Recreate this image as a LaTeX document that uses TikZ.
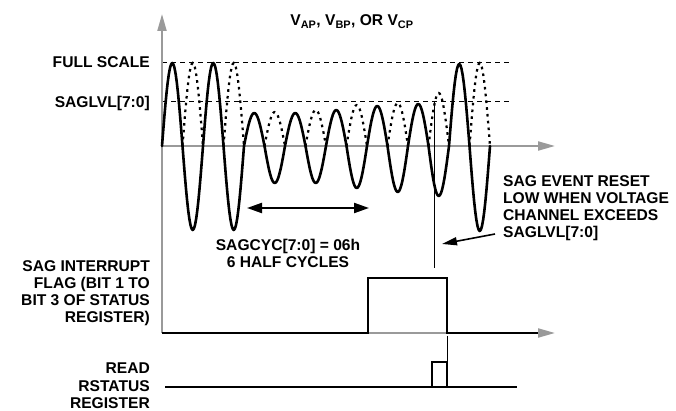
\documentclass[tikz,border=0pt]{standalone}
\usepackage{fontspec}
\setmainfont{Liberation Sans}
\usetikzlibrary{arrows.meta}
\definecolor{axisgray}{HTML}{9A9A9A}
\begin{document}
\begin{tikzpicture}[x=1pt,y=-1pt,
  lbl/.style={font=\fontsize{15.6}{17.3}\selectfont\bfseries, inner sep=0pt},
  axisline/.style={draw=axisgray, line width=2pt, -{Triangle[length=17pt,width=9pt]}},
  levelline/.style={draw=black, line width=1pt, dash pattern=on 5pt off 4pt},
  wave/.style={draw=black, line width=2.6pt, line join=round, line cap=round},
  dots/.style={draw=black, line width=2.2pt, dash pattern=on 2.6pt off 4.2pt},
  sig/.style={draw=black, line width=2.6pt, line join=miter},
  thin/.style={draw=black, line width=1pt},
  dblarrow/.style={draw=black, line width=2.2pt, {Triangle[length=15pt,width=10pt]}-{Triangle[length=15pt,width=10pt]}},
  ptr/.style={draw=black, line width=1.6pt, -{Triangle[length=15pt,width=8pt]}}]
\useasboundingbox (0,0) rectangle (676,411);

% coordinates
\coordinate (origin) at (162,146);
\coordinate (ytop) at (162,14);
\coordinate (ybot) at (162,333);
\coordinate (xend) at (555,146);
\coordinate (fend) at (555,333);
\coordinate (fsL) at (162,63);
\coordinate (fsR) at (510,63);
\coordinate (slL) at (162,102);
\coordinate (slR) at (510,102);

% level lines
\draw[levelline] (fsL) -- (fsR);
\draw[levelline] (slL) -- (slR);

% axes
\draw[axisline] (ybot) -- (ytop);
\draw[axisline] (origin) -- (xend);
\draw[axisline] (ybot) -- (fend);

% dotted rectified negative halves
\foreach \s/\A in {182.5/83, 223.5/83, 264.5/34, 305.5/36, 346.5/41, 387.5/43, 428.5/53, 469.5/83}
  \draw[dots] plot[domain=0:180,samples=21] ({\s+\x/180*20.5},{146-\A*sin(\x)});

% solid waveform
\draw[wave] (origin) foreach \A [count=\k] in {83,-84,83,-84,33,-37,33,-37,36,-42,40,-46,42,-50,82,-85}
  { -- plot[domain=0:180,samples=19] ({162+(\k-1)*20.5+\x/180*20.5},{146-\A*sin(\x)}) };

% labels
\node[lbl, anchor=base east] (fslbl) at (150,68) {FULL SCALE};
\node[lbl, anchor=base east] (sllbl) at (150,108) {SAGLVL[7:0]};
\node[lbl, anchor=base] (title) at (352,26) {V\textsubscript{AP}, V\textsubscript{BP}, OR V\textsubscript{CP}};
\node[lbl, anchor=north east, align=right] (flaglbl) at (150,260) {SAG INTERRUPT\\FLAG (BIT 1 TO\\BIT 3 OF STATUS\\REGISTER)};
\node[lbl, anchor=north east, align=right] (readlbl) at (150,363) {READ\\RSTATUS\\REGISTER};
\node[lbl, anchor=north west, align=left] (evlbl) at (503,175) {SAG EVENT RESET\\LOW WHEN VOLTAGE\\CHANNEL EXCEEDS\\SAGLVL[7:0]};
\node[lbl, anchor=north, align=center] (cyclbl) at (288,239) {SAGCYC[7:0] = 06h\\6 HALF CYCLES};

% half-cycle span arrow
\coordinate (spanL) at (247,208);
\coordinate (spanR) at (369,208);
\draw[dblarrow] (spanL) -- (spanR);

% reset marker line and pointer
\coordinate (vtop) at (434,102);
\coordinate (vbot) at (434,268);
\draw[thin] (vtop) -- (vbot);
\coordinate (ptrS) at (495,234);
\coordinate (ptrE) at (442,244);
\draw[ptr] (ptrS) -- (ptrE);

% SAG flag signal
\coordinate (f0) at (162,333);
\coordinate (f1) at (368,333);
\coordinate (f2) at (368,278);
\coordinate (f3) at (447,278);
\coordinate (f4) at (447,333);
\coordinate (f5) at (538,333);
\draw[sig] (f0) -- (f1) -- (f2) -- (f3) -- (f4) -- (f5);
\coordinate (fl) at (447,336);
\coordinate (pt) at (447,362);
\draw[thin] (fl) -- (pt);

% read rstatus signal
\coordinate (r0) at (165,387);
\coordinate (r1) at (517,387);
\draw[sig] (r0) -- (r1);
\draw[sig] (432,362) rectangle (447,387);
\end{tikzpicture}
\end{document}
